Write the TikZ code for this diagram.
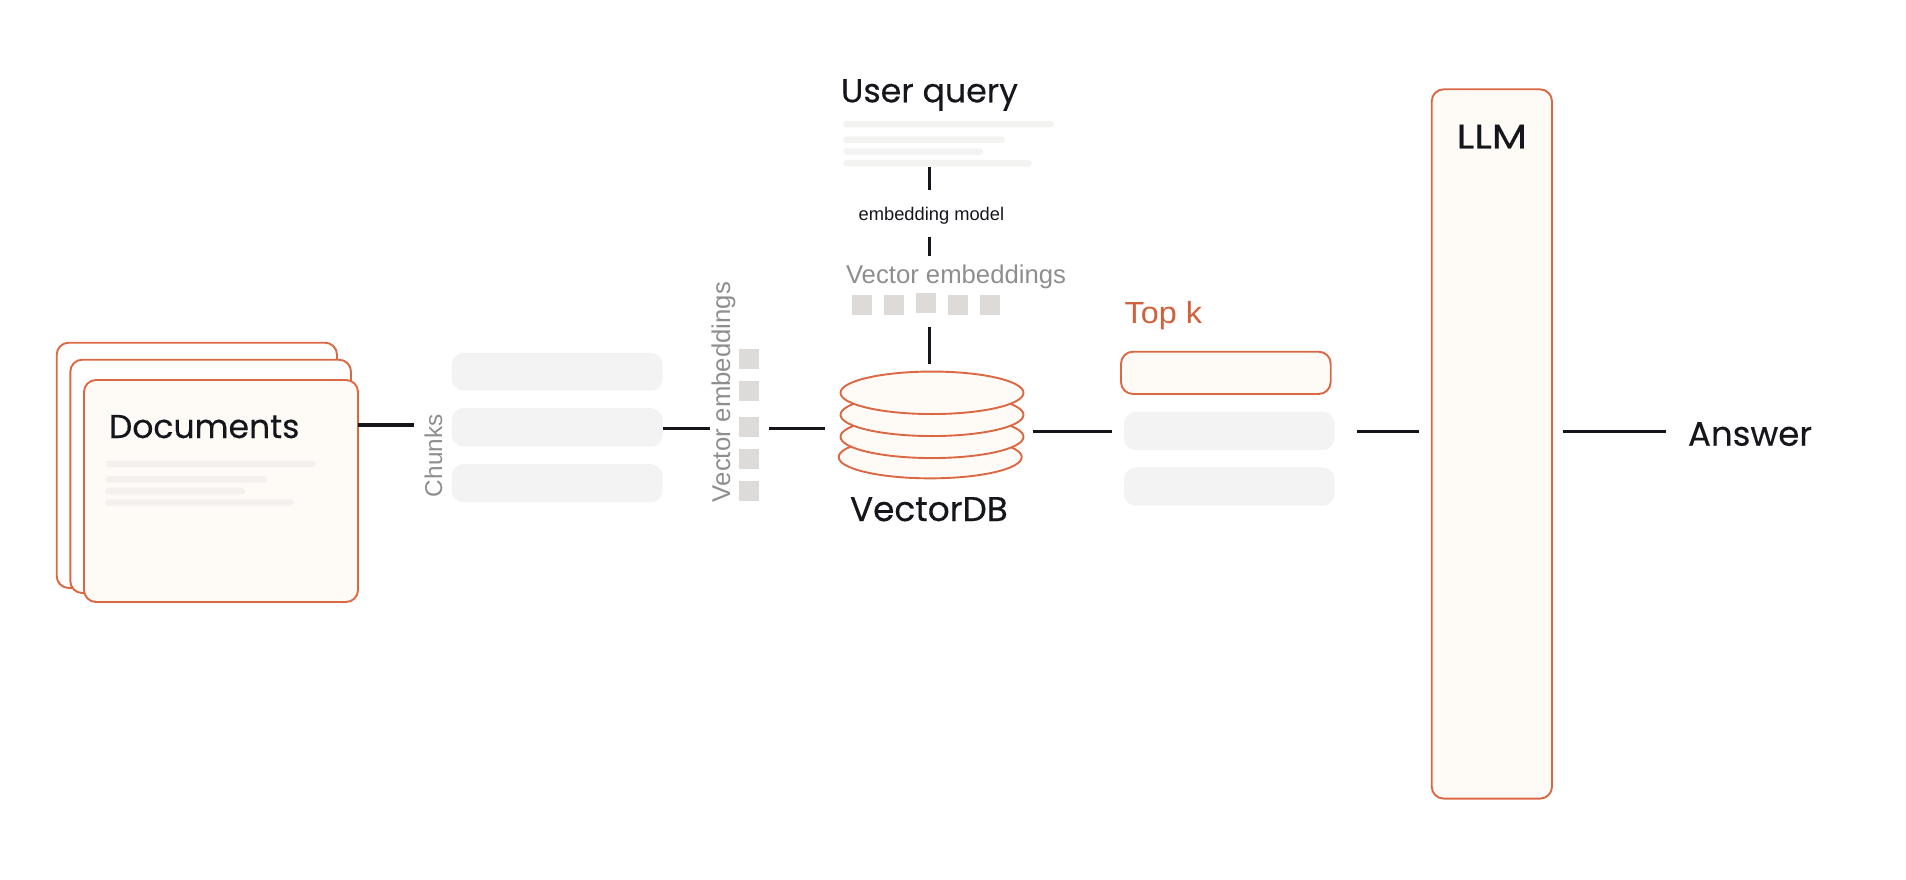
\documentclass[tikz,border=0pt]{standalone}
\usepackage{fontspec}
\setmainfont{Poppins}
\newfontfamily\headfont[FakeBold=0.35]{Poppins}
\newfontfamily\labelfont{Liberation Sans}
\definecolor{rust}{HTML}{DB6842}
\definecolor{cream}{HTML}{FEFBF7}
\definecolor{ink}{HTML}{14161C}
\definecolor{graytext}{HTML}{8E8E8E}
\definecolor{squarefill}{HTML}{DDDAD7}
\definecolor{chunkfill}{HTML}{F2F3F2}
\definecolor{barwarm}{HTML}{F4F0ED}
\definecolor{barcool}{HTML}{F3F3F2}
\definecolor{topk}{HTML}{D2603A}
\newcommand{\pbox}[6]{\node[#1, minimum width={(#4-#2)*1pt}, minimum height={(#5-#3)*1pt}] (#6) at ({(#2+#4)/2},{(#3+#5)/2}) {};}
\tikzset{
  sheet/.style={draw=rust, line width=1.9pt, rounded corners=12pt, inner sep=0pt, outer sep=0pt},
  plainsheet/.style={sheet, fill=white},
  creamsheet/.style={sheet, fill=cream},
  chunkbox/.style={fill=chunkfill, rounded corners=12pt, inner sep=0pt, outer sep=0pt},
  warmbar/.style={fill=barwarm, rounded corners=3.3pt, inner sep=0pt, outer sep=0pt},
  coolbar/.style={fill=barcool, rounded corners=3.3pt, inner sep=0pt, outer sep=0pt},
  vecsquare/.style={fill=squarefill, inner sep=0pt, outer sep=0pt},
  disc/.style={draw=rust, line width=1.9pt, fill=cream, ellipse, inner sep=0pt, outer sep=0pt, minimum width=183pt, minimum height=42.5pt},
  conn/.style={draw=ink, line width=3.4pt},
  heading/.style={text=ink, font=\headfont\fontsize{34}{34}\selectfont, inner sep=0pt, outer sep=0pt},
  graylabel/.style={text=graytext, font=\labelfont\fontsize{25.7}{25.7}\selectfont, inner sep=0pt, outer sep=0pt},
}
\usetikzlibrary{shapes.geometric}
\begin{document}
\begin{tikzpicture}[x=1pt,y=-1pt]
\useasboundingbox (0,0) rectangle (1906,880);
% document stack
\pbox{plainsheet}{56.7}{342.7}{337}{588}{docA}
\pbox{plainsheet}{70.3}{359.7}{351}{593}{docB}
\pbox{creamsheet}{84}{380}{358}{602}{docC}
\node[heading, anchor=base west, font=\headfont\fontsize{33}{33}\selectfont] (docT) at (109,438) {Documents};
\pbox{warmbar}{105.3}{460.7}{316}{467}{docL1}
\pbox{warmbar}{105.3}{476}{267}{482.7}{docL2}
\pbox{warmbar}{105.3}{487.7}{245}{494.3}{docL3}
\pbox{warmbar}{105.3}{499.3}{294}{505.7}{docL4}
% chunks
\node[graylabel, rotate=90, anchor=base west, font=\labelfont\fontsize{24.3}{24.3}\selectfont] (chunksT) at (442,497) {Chunks};
\pbox{chunkbox}{451.7}{352.7}{662.7}{390.7}{chA}
\pbox{chunkbox}{451.7}{408}{662.7}{446.7}{chB}
\pbox{chunkbox}{451.7}{464}{662.7}{502.3}{chC}
% vertical embeddings
\node[graylabel, rotate=90, anchor=base west] (vecT) at (730,502) {Vector embeddings};
\pbox{vecsquare}{739}{349.3}{759}{369.3}{vA}
\pbox{vecsquare}{739}{381.3}{759}{401.3}{vB}
\pbox{vecsquare}{739}{416.7}{759}{436.7}{vC}
\pbox{vecsquare}{739}{449}{759}{469}{vD}
\pbox{vecsquare}{739}{481}{759}{501}{vE}
% user query
\node[heading, anchor=base west, font=\headfont\fontsize{33.2}{33.2}\selectfont] (queryT) at (841,102.3) {User query};
\pbox{coolbar}{843.3}{121}{1054}{127.7}{qL1}
\pbox{coolbar}{843.3}{136.3}{1005}{143}{qL2}
\pbox{coolbar}{843.3}{148.3}{983.3}{155}{qL3}
\pbox{coolbar}{843.3}{160}{1032}{166.7}{qL4}
\node[text=ink, font=\labelfont\fontsize{18.3}{18.3}\selectfont, inner sep=0pt, anchor=base west] (modelT) at (858.5,220.7) {embedding model};
\node[graylabel, anchor=base west] (vecH) at (846,283.3) {Vector embeddings};
\pbox{vecsquare}{851.7}{295}{872}{315}{hA}
\pbox{vecsquare}{884}{295}{904}{315}{hB}
\pbox{vecsquare}{916}{293.3}{936}{313.3}{hC}
\pbox{vecsquare}{948}{295}{968.3}{315}{hD}
\pbox{vecsquare}{980}{295}{1000.3}{315}{hE}
% vector db
\node[disc] (db4) at (930.2,457.1) {};
\node[disc] (db3) at (932,436.8) {};
\node[disc] (db2) at (932,414.8) {};
\node[disc] (db1) at (932,392.8) {};
\node[heading, anchor=base west, font=\headfont\fontsize{34.3}{34.3}\selectfont] (dbT) at (850,521) {VectorDB};
% top k
\node[text=topk, font=\labelfont\fontsize{30.5}{30.5}\selectfont, inner sep=0pt, anchor=base west, xscale=1.06] (topT) at (1124.5,323.3) {Top k};
\pbox{creamsheet}{1121}{351.7}{1330.7}{394}{kA}
\pbox{chunkbox}{1124}{411.7}{1334.6}{450}{kB}
\pbox{chunkbox}{1124}{467.3}{1334.6}{505.7}{kC}
% llm
\pbox{creamsheet}{1431.7}{89.3}{1552}{798.6}{llm}
\node[heading, anchor=base, xscale=1.2] (llmT) at (1491.8,148.3) {LLM};
\node[heading, anchor=base west] (ansT) at (1688,445.7) {Answer};
% connector ends
\coordinate (a1) at (358.3,425);   \coordinate (a2) at (414,425);
\coordinate (b1) at (662.7,428.3); \coordinate (b2) at (710,428.3);
\coordinate (c1) at (769,428.3);   \coordinate (c2) at (824.7,428.3);
\coordinate (d1) at (1032.5,431.7);\coordinate (d2) at (1111.8,431.7);
\coordinate (e1) at (1356.7,431.7);\coordinate (e2) at (1419.3,431.7);
\coordinate (f1) at (1562.7,431.7);\coordinate (f2) at (1665.7,431.7);
\coordinate (g1) at (929.3,166.7); \coordinate (g2) at (929.3,190);
\coordinate (h1) at (929.3,236.7); \coordinate (h2) at (929.3,256);
\coordinate (i1) at (929.3,327.3); \coordinate (i2) at (929.3,364);
\foreach \p/\q in {a1/a2,b1/b2,c1/c2,d1/d2,e1/e2,f1/f2,g1/g2,h1/h2,i1/i2}
  \draw[conn] (\p) -- (\q);
\end{tikzpicture}
\end{document}
